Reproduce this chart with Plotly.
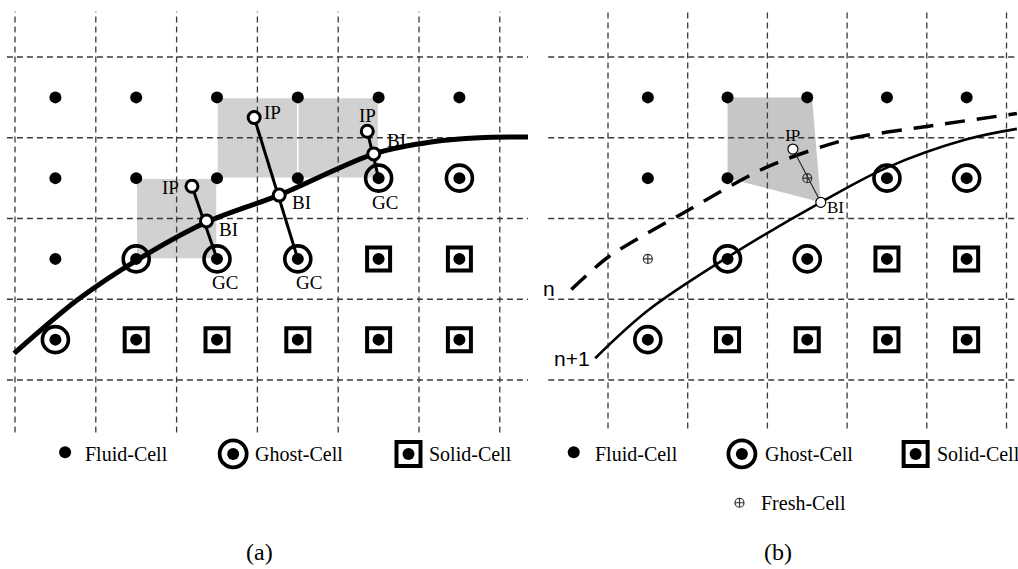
import plotly.graph_objects as go

# ---------------- data (grid units: one cell = 1) ----------------
# cell classes, given as (column, row) of each cell
A_FLUID = [(0, 3), (1, 3), (2, 3), (3, 3), (4, 3), (5, 3), (0, 2), (1, 2), (2, 2), (3, 2), (0, 1)]
A_GHOST = [(4, 2), (5, 2), (1, 1), (2, 1), (3, 1), (0, 0)]
A_SOLID = [(4, 1), (5, 1), (1, 0), (2, 0), (3, 0), (4, 0), (5, 0)]
B_FLUID = [(0, 3), (1, 3), (2, 3), (3, 3), (4, 3), (0, 2), (1, 2)]
B_FRESH = [(2, 2), (0, 1)]
B_GHOST = [(3, 2), (4, 2), (1, 1), (2, 1), (0, 0)]
B_SOLID = [(3, 1), (4, 1), (1, 0), (2, 0), (3, 0), (4, 0)]
A_COLS, B_COLS, ROWS = 6, 5, 4

# immersed boundary (a)
A_BOUND_X = [-0.01, 0.77, 1.55, 2.38, 3.27, 4.44, 5.17, 5.75, 6.40]
A_BOUND_Y = [0.33, 0.99, 1.51, 1.96, 2.29, 2.80, 2.95, 3.00, 3.01]
# boundary at time n (dashed) and n+1 (solid) in (b)
B_N_X = [-0.46, 0.0, 1.0, 2.0, 3.0, 4.0, 5.13]
B_N_Y = [1.12, 1.52, 2.10, 2.64, 2.98, 3.14, 3.30]
B_N1_X = [-0.16, 0.5, 1.5, 2.67, 3.5, 4.5, 5.13]
B_N1_Y = [0.27, 0.86, 1.52, 2.20, 2.63, 2.98, 3.11]

# image points / boundary intercepts / ghost cells (a)
A_IP = [(2.19, 2.40), (2.96, 3.25), (4.36, 3.08)]
A_BI = [(2.37, 1.97), (3.27, 2.29), (4.44, 2.80)]
A_GC = [(2.5, 1.5), (3.5, 1.5), (4.5, 2.5)]
# interpolation stencils (x0, y0, x1, y1)
A_STENCILS = [(1.5, 1.5, 2.5, 2.5), (2.5, 2.5, 3.5, 3.5), (3.5, 2.5, 4.5, 3.5)]
A_LABELS = [("IP", 1.93, 2.38), ("IP", 3.19, 3.31), ("IP", 4.36, 3.28),
            ("BI", 2.64, 1.86), ("BI", 3.54, 2.20), ("BI", 4.72, 2.97),
            ("GC", 2.60, 1.21), ("GC", 3.64, 1.21), ("GC", 4.58, 2.20)]

# (b) stencil polygon, image point, boundary intercept
B_POLY_X = [1.5, 2.56, 2.67, 1.5]
B_POLY_Y = [3.5, 3.5, 2.20, 2.5]
B_IP = (2.32, 2.86)
B_BI = (2.67, 2.20)
B_LABELS = [("IP", 2.31, 3.03), ("BI", 2.86, 2.14)]

LEGEND_NAMES = ["Fluid-Cell", "Ghost-Cell", "Solid-Cell", "Fresh-Cell"]

# ---------------- figure ----------------
W, H = 1018, 569
fig = go.Figure()

SERIF = "Liberation Serif, Times New Roman, serif"
SANS = "Liberation Sans, Arial, sans-serif"
GRID = "#3a3a3a"
BLACK = "#000000"


def centers(cells):
    return [c + 0.5 for c, r in cells], [r + 0.5 for c, r in cells]


def add(tr, panel):
    tr.update(xaxis="x" if panel == "a" else "x2", yaxis="y" if panel == "a" else "y2",
              showlegend=False, hoverinfo="skip", cliponaxis=False)
    fig.add_trace(tr)


def grid(panel, ncols, xl, xr, yb, yt):
    xs, ys = [], []
    for i in range(ncols + 1):
        xs += [i, i, None]
        ys += [yb, yt, None]
    for j in range(ROWS + 1):
        xs += [xl, xr, None]
        ys += [j, j, None]
    add(go.Scatter(x=xs, y=ys, mode="lines",
                   line=dict(color=GRID, width=1.3, dash="6px,4px")), panel)


def cells(panel, fluid, ghost, solid, fresh=None):
    fx, fy = centers(fluid)
    add(go.Scatter(x=fx, y=fy, mode="markers",
                   marker=dict(symbol="circle", size=12, color=BLACK, line=dict(width=0))), panel)
    gx, gy = centers(ghost)
    add(go.Scatter(x=gx, y=gy, mode="markers",
                   marker=dict(symbol="circle-open", size=26, color=BLACK, line=dict(width=3.6, color=BLACK))), panel)
    add(go.Scatter(x=gx, y=gy, mode="markers",
                   marker=dict(symbol="circle", size=12, color=BLACK, line=dict(width=0))), panel)
    sx, sy = centers(solid)
    add(go.Scatter(x=sx, y=sy, mode="markers",
                   marker=dict(symbol="square-open", size=23, color=BLACK, line=dict(width=4, color=BLACK))), panel)
    add(go.Scatter(x=sx, y=sy, mode="markers",
                   marker=dict(symbol="circle", size=12, color=BLACK, line=dict(width=0))), panel)
    if fresh:
        qx, qy = centers(fresh)
        add(go.Scatter(x=qx, y=qy, mode="markers",
                       marker=dict(symbol="circle-cross-open", size=9, color="#333",
                                   line=dict(width=1.2, color="#333"))), panel)


# ----- panel (a) -----
for (x0, y0, x1, y1) in A_STENCILS:
    add(go.Scatter(x=[x0, x1, x1, x0, x0], y=[y0, y0, y1, y1, y0], mode="lines", fill="toself",
                   fillcolor="#d1d1d1", line=dict(color="white", width=1.5)), "a")
grid("a", A_COLS, -0.1, 6.42, -0.65, 4.56)
add(go.Scatter(x=A_BOUND_X, y=A_BOUND_Y, mode="lines",
               line=dict(color=BLACK, width=5, shape="spline", smoothing=0.8)), "a")
for ip, gc in zip(A_IP, A_GC):
    add(go.Scatter(x=[ip[0], gc[0]], y=[ip[1], gc[1]], mode="lines",
                   line=dict(color=BLACK, width=3)), "a")
cells("a", A_FLUID, A_GHOST, A_SOLID)
add(go.Scatter(x=[p[0] for p in A_IP + A_BI], y=[p[1] for p in A_IP + A_BI], mode="markers",
               marker=dict(symbol="circle", size=12, color="white", line=dict(width=3, color=BLACK))), "a")

# ----- panel (b) -----
add(go.Scatter(x=B_POLY_X + [B_POLY_X[0]], y=B_POLY_Y + [B_POLY_Y[0]], mode="lines", fill="toself",
               fillcolor="#c6c6c6", line=dict(width=0, color="#c6c6c6")), "b")
grid("b", B_COLS, -0.75, 5.2, -0.6, 4.56)
add(go.Scatter(x=B_N_X, y=B_N_Y, mode="lines",
               line=dict(color=BLACK, width=3.5, dash="20px,12px", shape="spline", smoothing=0.8)), "b")
add(go.Scatter(x=B_N1_X, y=B_N1_Y, mode="lines",
               line=dict(color=BLACK, width=2.6, shape="spline", smoothing=1.0)), "b")
add(go.Scatter(x=[B_IP[0], B_BI[0]], y=[B_IP[1], B_BI[1]], mode="lines",
               line=dict(color="#222", width=1.1)), "b")
cells("b", B_FLUID, B_GHOST, B_SOLID, B_FRESH)
add(go.Scatter(x=[B_IP[0], B_BI[0]], y=[B_IP[1], B_BI[1]], mode="markers",
               marker=dict(symbol="circle", size=10, color="white", line=dict(width=1.2, color=BLACK))), "b")

# ----- legends -----
LEG_Y = -0.915
FRESH_Y = -1.52


def legend(panel, xs):
    fx, gx, sx = xs
    add(go.Scatter(x=[fx, gx, sx], y=[LEG_Y + 0.02, LEG_Y, LEG_Y], mode="markers",
                   marker=dict(symbol="circle", size=12, color=BLACK, line=dict(width=0))), panel)
    add(go.Scatter(x=[gx], y=[LEG_Y], mode="markers",
                   marker=dict(symbol="circle-open", size=27, color=BLACK, line=dict(width=3.8, color=BLACK))), panel)
    add(go.Scatter(x=[sx], y=[LEG_Y], mode="markers",
                   marker=dict(symbol="square-open", size=24, color=BLACK, line=dict(width=4, color=BLACK))), panel)


legend("a", (0.62, 2.70, 4.87))
legend("b", (-0.43, 1.68, 3.86))
add(go.Scatter(x=[1.65], y=[FRESH_Y], mode="markers",
               marker=dict(symbol="circle-cross-open", size=9, color="#333",
                           line=dict(width=1.2, color="#333"))), "b")

ann = []


def text(t, x, y, panel, size=19, xanchor="center", font=SERIF):
    ann.append(dict(text=t, x=x, y=y, xref="x" if panel == "a" else "x2",
                    yref="y" if panel == "a" else "y2", showarrow=False,
                    xanchor=xanchor, yanchor="middle",
                    font=dict(family=font, size=size, color=BLACK)))


for t, x, y in A_LABELS:
    text(t, x, y, "a")
for t, x, y in B_LABELS:
    text(t, x, y, "b", size=17)

text(LEGEND_NAMES[0], 0.84, LEG_Y, "a", size=20, xanchor="left")
text(LEGEND_NAMES[1], 2.95, LEG_Y, "a", size=20, xanchor="left")
text(LEGEND_NAMES[2], 5.10, LEG_Y, "a", size=20, xanchor="left")
text(LEGEND_NAMES[0], -0.19, LEG_Y, "b", size=20, xanchor="left")
text(LEGEND_NAMES[1], 1.94, LEG_Y, "b", size=20, xanchor="left")
text(LEGEND_NAMES[2], 4.10, LEG_Y, "b", size=20, xanchor="left")
text(LEGEND_NAMES[3], 1.90, FRESH_Y, "b", size=20, xanchor="left")
text("(a)", 3.03, -2.13, "a", size=24)
text("(b)", 2.13, -2.13, "b", size=24)
text("n", -0.64, 1.13, "b", size=21, xanchor="right", font=SANS)
text("n+1", -0.20, 0.27, "b", size=21, xanchor="right", font=SANS)

Y_RANGE = [-189 / 80.75, 380 / 80.75]
ax = dict(visible=False, showgrid=False, zeroline=False, fixedrange=True)
fig.update_layout(
    width=W, height=H, margin=dict(l=0, r=0, t=0, b=0),
    paper_bgcolor="white", plot_bgcolor="white", showlegend=False,
    xaxis=dict(ax, domain=[0, 535 / W], range=[-15 / 80.8, 520 / 80.8]),
    xaxis2=dict(ax, domain=[528 / W, 1], range=[-80 / 79.7, 410 / 79.7]),
    yaxis=dict(ax, domain=[0, 1], range=Y_RANGE, anchor="x"),
    yaxis2=dict(ax, domain=[0, 1], range=Y_RANGE, anchor="x2"),
    annotations=ann,
)
fig.write_html("out.html", config={"displayModeBar": False},
               post_script="document.body.style.margin='0';document.body.style.overflow='hidden';")
